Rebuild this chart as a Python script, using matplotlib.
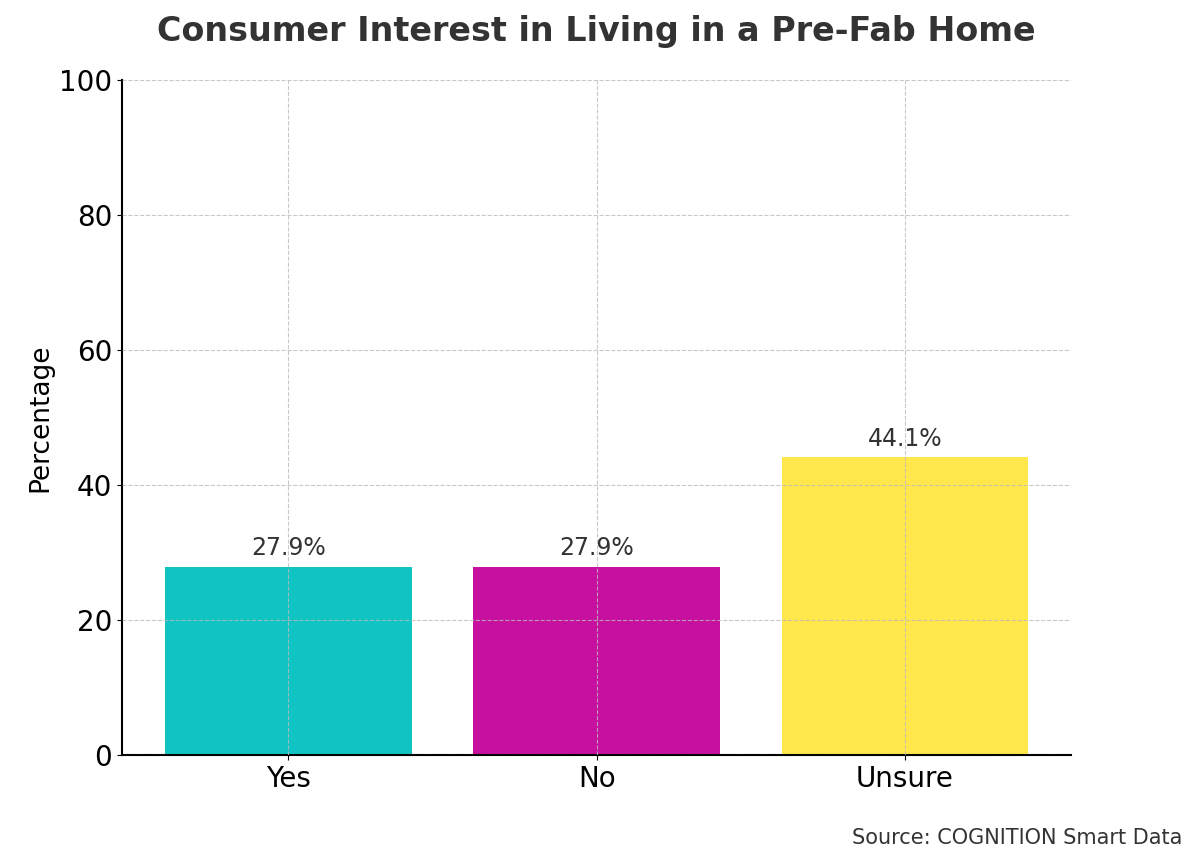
import matplotlib
matplotlib.use("Agg")
import matplotlib.pyplot as plt

categories = ["Yes", "No", "Unsure"]
values = [27.9, 27.9, 44.1]
colors = ["#10C4C4", "#C710A0", "#FFE74C"]

fig = plt.figure(figsize=(12, 8.65), dpi=100)
ax = fig.add_axes([0.1017, 0.127, 0.791, 0.7805])

bars = ax.bar(categories, values, color=colors, width=0.8)
for b, v in zip(bars, values):
    ax.text(b.get_x() + b.get_width() / 2, v + 1, f"{v}%", ha="center", va="bottom",
            fontsize=17, color="#333333")

ax.set_ylim(0, 100)
ax.set_ylabel("Percentage", fontsize=19)
ax.set_title("Consumer Interest in Living in a Pre-Fab Home", fontsize=24,
             fontweight="bold", color="#333333", pad=28)
ax.tick_params(axis="both", labelsize=20)
ax.grid(True, linestyle="--", color="#bbbbbb", alpha=0.8)
ax.set_axisbelow(False)
for s in ["top", "right"]:
    ax.spines[s].set_visible(False)
ax.spines["left"].set_linewidth(1.5)
ax.spines["bottom"].set_linewidth(1.5)

fig.text(0.985, 0.02, "Source: COGNITION Smart Data", ha="right", va="bottom",
         fontsize=15, color="#333333")

fig.savefig("out.png", dpi=100)
